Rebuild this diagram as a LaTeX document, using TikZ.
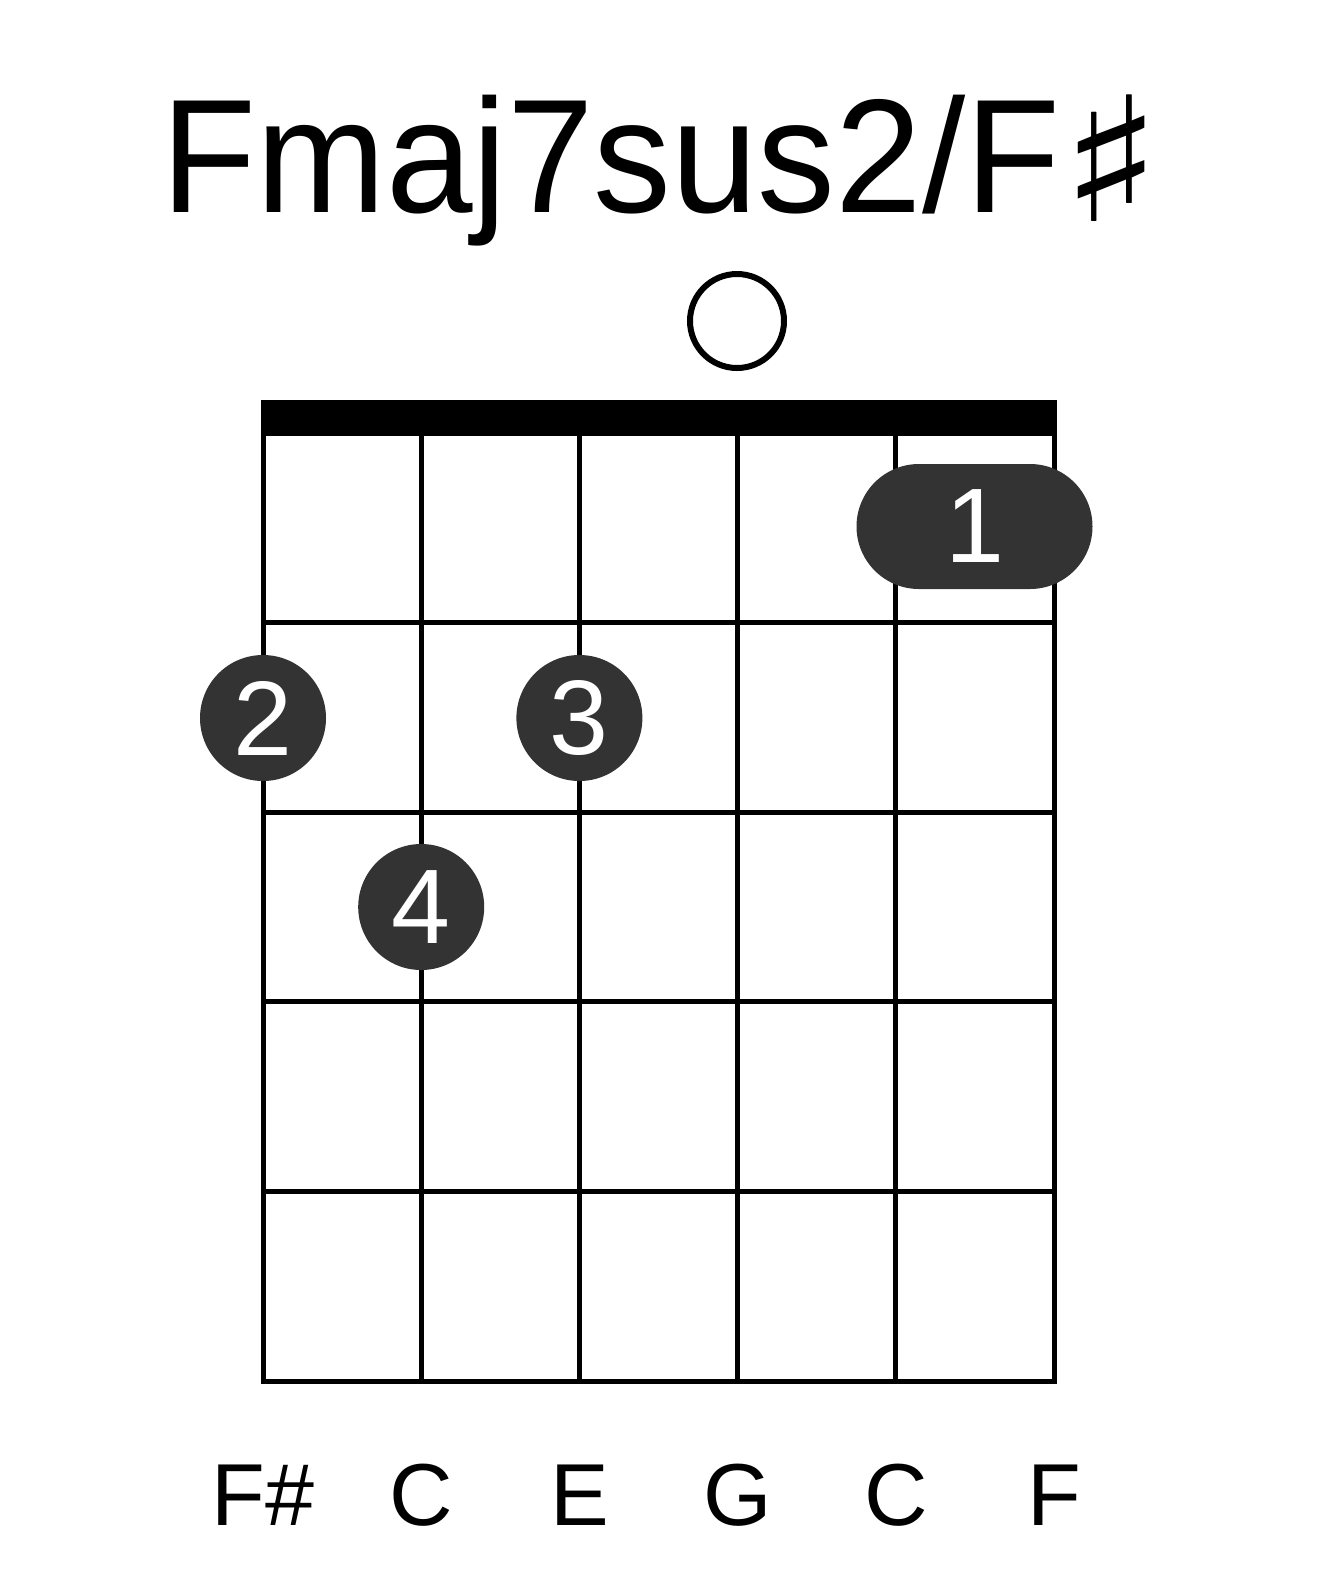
\documentclass[tikz,border=0pt]{standalone}
\usepackage{fontspec}
\setmainfont{Liberation Sans}
\newfontfamily\musicfont{DejaVu Sans}
\usepackage{xcolor}
\usetikzlibrary{positioning, calc}
\definecolor{dotgray}{HTML}{333333}

\begin{document}
\begin{tikzpicture}[x=0.5pt, y=-0.5pt,
  fingerdot/.style={circle, fill=dotgray, text=white, inner sep=0pt,
    minimum size=63pt, font=\fontsize{53}{53}\selectfont},
  barredot/.style={rectangle, rounded corners=31.25pt, fill=dotgray, text=white,
    inner sep=0pt, minimum width=118pt, minimum height=62.5pt,
    font=\fontsize{53}{53}\selectfont},
  openstring/.style={circle, draw, line width=3pt, inner sep=0pt, minimum size=47pt},
  notelabel/.style={anchor=base, font=\fontsize{44}{44}\selectfont}]
  \useasboundingbox (0,0) rectangle (1317,1581);
  % Title
  \node[anchor=base, inner sep=0pt, font=\fontsize{81}{81}\selectfont] (title) at (662,212)
    {\scalebox{0.96}[1]{Fmaj7sus2/F}\raisebox{-4.5pt}{\scalebox{1.3}[1.07]{\musicfont ♯}}};
  % String and fret coordinates
  \foreach \i in {0,...,5} {
    \coordinate (top\i) at ({263+158.2*\i},433);
    \coordinate (bot\i) at ({263+158.2*\i},1381);
  }
  % Nut
  \fill (260.5,400) rectangle (1056.5,433);
  % Grid
  \draw[line width=2.5pt] (top0) rectangle (bot5);
  \foreach \i in {1,...,4} {
    \draw[line width=2.5pt] (top\i) -- (bot\i);
  }
  \foreach \k in {1,...,4} {
    \draw[line width=2.5pt] ($(top0)+(0,189.6*\k)$) -- ($(top5)+(0,189.6*\k)$);
  }
  % Open string
  \node[openstring] (open4) at (737,321) {};
  % Fingers
  \node[barredot] (barre1) at (974.5,526.5) {1};
  \node[fingerdot] (finger2) at (263,718) {2};
  \node[fingerdot] (finger3) at (579.4,718) {3};
  \node[fingerdot] (finger4) at (421.2,907) {4};
  % Note names
  \foreach \n [count=\i from 0] in {F\#,C,E,G,C,F} {
    \node[notelabel] (note\i) at ({263+158.2*\i},1525) {\n};
  }
\end{tikzpicture}
\end{document}
